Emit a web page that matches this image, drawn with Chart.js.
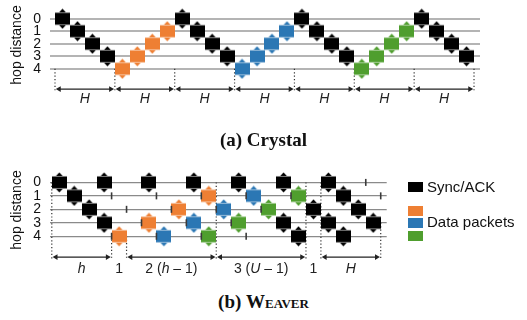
<!DOCTYPE html>
<html>
<head>
<meta charset="utf-8">
<script src="https://cdn.jsdelivr.net/npm/chart.js@4.4.1/dist/chart.umd.min.js"></script>
<style>
  body { margin: 0; width: 527px; height: 320px; background: #fff; position: relative; overflow: hidden; font-family: "Liberation Sans", Arial, sans-serif; color: #111; }
  canvas { position: absolute; left: 0; }
  #crystal { top: -30px; }
  #weaver { top: 130px; }
  .caption { position: absolute; left: 0; width: 527px; text-align: center; font-family: "Liberation Serif", serif; font-weight: bold; font-size: 19px; line-height: 22px; }
  .sc { font-variant: small-caps; }
  .box { position: absolute; left: 408px; width: 15px; }
  .legend-text { position: absolute; left: 427px; font-size: 15px; line-height: 19px; }
</style>
</head>
<body>
<canvas id="crystal" width="527" height="150"></canvas>
<canvas id="weaver" width="527" height="160"></canvas>
<div class="caption" style="top:129px">(a) Crystal</div>
<div class="caption" style="top:291px">(b) <span class="sc">Weaver</span></div>
<div class="box" style="top:182px;height:10px;background:#000"></div>
<div class="legend-text" style="top:177px">Sync/ACK</div>
<div class="box" style="top:206px;height:10px;background:#ee7f33"></div>
<div class="box" style="top:218px;height:10px;background:#2b77b4"></div>
<div class="box" style="top:230.5px;height:10.5px;background:#4f9e2e"></div>
<div class="legend-text" style="top:212px">Data packets</div>
<script>
const SYNC = '#000000', ORANGE = '#ee7f33', BLUE = '#2b77b4', GREEN = '#4f9e2e';
const FONT = '"Liberation Sans", Arial, sans-serif';
const hopTicks = [0, 1, 2, 3, 4];

// (a) Crystal: slot index -> hop distance
const crystalSyncSlots = [0, 1, 2, 3, 8, 9, 10, 11, 16, 17, 18, 19, 24, 25, 26, 27];
const crystalSyncHops = [0, 1, 2, 3, 0, 1, 2, 3, 0, 1, 2, 3, 0, 1, 2, 3];
const crystalOrangeSlots = [4, 5, 6, 7];
const crystalBlueSlots = [12, 13, 14, 15];
const crystalGreenSlots = [20, 21, 22, 23];
const crystalDataHops = [4, 3, 2, 1];
const crystalBounds = [-0.5, 3.5, 7.5, 11.5, 15.5, 19.5, 23.5, 27.5];
const crystalBoundTops = [4, 4, 4, 4, 4, 4, 4, 4];
const crystalSpans = [[-0.5, 3.5], [3.5, 7.5], [7.5, 11.5], [11.5, 15.5], [15.5, 19.5], [19.5, 23.5], [23.5, 27.5]];
const crystalLabelPos = [1.5, 5.5, 9.5, 13.5, 17.5, 21.5, 25.5];
const crystalLabels = crystalLabelPos.map(() => [['H', 1]]);

// (b) Weaver
const weaverSyncSlots = [0, 1, 2, 3, 3, 6, 9, 12, 15, 15, 16, 17, 18, 18, 19, 19, 20, 21];
const weaverSyncHops = [0, 1, 2, 3, 0, 0, 0, 0, 0, 3, 4, 2, 0, 3, 1, 4, 2, 3];
const weaverOrangeSlots = [4, 6, 8, 10];
const weaverBlueSlots = [7, 9, 11, 13];
const weaverGreenSlots = [10, 12, 14, 16];
const weaverDataHops = [4, 3, 2, 1];
const weaverTickSlots = [3.5, 6.5, 4.5, 12.5, 20.5, 21.5];
const weaverTickHops = [1, 1, 2, 4, 0, 1];
const weaverBounds = [-0.5, 3.5, 4.5, 10.5, 16.5, 17.5, 21.5];
const weaverBoundTops = [0, 4, 4, 0, 0, 0, 3];
const weaverSpans = [[-0.5, 3.5], [4.5, 10.5], [10.5, 16.5], [17.5, 21.5]];
const weaverLabelPos = [1.5, 4, 7.5, 13.5, 17, 19.5];
const weaverLabels = [
  [['h', 1]],
  [['1', 0]],
  [['2 (', 0], ['h', 1], [' \u2013 1)', 0]],
  [['3 (', 0], ['U', 1], [' \u2013 1)', 0]],
  [['1', 0]],
  [['H', 1]]
];

// square with a small up/down arrow, used as the point style
function makeGlyph(color) {
  const c = document.createElement('canvas');
  c.width = 15; c.height = 21;
  const g = c.getContext('2d');
  g.fillStyle = color;
  g.fillRect(0, 4.5, 15, 12);
  g.beginPath(); g.moveTo(4.2, 4); g.lineTo(10.8, 4); g.lineTo(7.5, 0.4); g.closePath(); g.fill();
  g.beginPath(); g.moveTo(4.2, 17); g.lineTo(10.8, 17); g.lineTo(7.5, 20.6); g.closePath(); g.fill();
  return c;
}

const spanLabels = {
  id: 'spanLabels',
  afterDatasetsDraw(chart, args, opts) {
    const { ctx, scales: { x, y } } = chart;
    ctx.save();
    ctx.fillStyle = '#222';
    ctx.textBaseline = 'middle';
    ctx.textAlign = 'left';
    const py = y.getPixelForValue(opts.row);
    opts.labels.forEach((parts, i) => {
      const fonts = parts.map(p => (p[1] ? 'italic ' : '') + '14px ' + FONT);
      const widths = parts.map((p, k) => { ctx.font = fonts[k]; return ctx.measureText(p[0]).width; });
      let px = x.getPixelForValue(opts.positions[i]) - widths.reduce((a, b) => a + b, 0) / 2;
      parts.forEach((p, k) => { ctx.font = fonts[k]; ctx.fillText(p[0], px, py); px += widths[k]; });
    });
    ctx.restore();
  }
};

function points(xs, ys) {
  return xs.map((v, i) => ({ x: v, y: ys[i] }));
}

function buildChart(id, c) {
  const datasets = [];
  c.series.forEach(s => datasets.push({
    data: points(s.slots, s.hops), pointStyle: makeGlyph(s.color),
    pointRadius: 8, pointHoverRadius: 8, order: 1, clip: false
  }));
  const ticks = c.tickSlots ? points(c.tickSlots, c.tickHops) : [];
  c.series.filter(s => s.color !== SYNC && c.tickSlots).forEach(s => {
    s.slots.forEach((v, i) => ticks.push({ x: v - 0.5, y: s.hops[i] }));
  });
  if (ticks.length) datasets.push({
    data: ticks, pointStyle: 'line', pointRotation: 90, pointRadius: 3.5,
    pointBorderWidth: 1.6, pointBorderColor: '#3a3a3a', order: 0, clip: false
  });
  const r = 3.3, gap = (r + 0.8) / 15;
  c.spans.forEach(sp => datasets.push({
    data: [{ x: sp[0] + gap, y: c.arrowRow }, { x: sp[1] - gap, y: c.arrowRow }],
    showLine: true, borderColor: '#222', borderWidth: 1.3,
    pointStyle: 'triangle', pointRotation: [-90, 90], pointRadius: r,
    pointBackgroundColor: '#222', pointBorderWidth: 0, order: 2, clip: false
  }));
  c.bounds.forEach((b, i) => datasets.push({
    data: [{ x: b, y: c.boundTops[i] }, { x: b, y: c.arrowRow + 0.1 }],
    showLine: true, borderColor: '#333', borderWidth: 1.2, borderDash: [1.2, 2.2],
    pointRadius: 0, order: 3, clip: false
  }));

  return new Chart(document.getElementById(id), {
    type: 'scatter',
    data: { datasets },
    plugins: [spanLabels],
    options: {
      responsive: false, animation: false, devicePixelRatio: 1,
      layout: { padding: c.padding },
      events: [],
      plugins: {
        legend: { display: false }, tooltip: { enabled: false },
        spanLabels: { row: c.labelRow, positions: c.labelPos, labels: c.labels }
      },
      scales: {
        x: { type: 'linear', display: false, min: c.xMin, max: c.xMax },
        y: {
          reverse: true, min: c.yMin, max: c.yMax,
          afterBuildTicks: axis => { axis.ticks = hopTicks.map(v => ({ value: v })); },
          afterFit: axis => { axis.width = 50; },
          grid: { color: c.gridColor, lineWidth: c.gridWidth, drawTicks: false },
          border: { display: false },
          ticks: { padding: 9, color: '#111', font: { size: 14, family: FONT } },
          title: {
            display: true, text: 'hop distance', color: '#111',
            font: { size: 14, family: FONT }, padding: { top: 9, bottom: 0 }
          }
        }
      }
    }
  });
}

buildChart('crystal', {
  series: [
    { slots: crystalSyncSlots, hops: crystalSyncHops, color: SYNC },
    { slots: crystalOrangeSlots, hops: crystalDataHops, color: ORANGE },
    { slots: crystalBlueSlots, hops: crystalDataHops, color: BLUE },
    { slots: crystalGreenSlots, hops: crystalDataHops, color: GREEN }
  ],
  bounds: crystalBounds, boundTops: crystalBoundTops, spans: crystalSpans,
  arrowRow: 5.62, labelRow: 6.4, labelPos: crystalLabelPos, labels: crystalLabels,
  xMin: -0.834, xMax: 27.9, yMin: -2.5, yMax: 6.7,
  padding: { left: 0, right: 47, top: 6.2, bottom: 7.2 },
  gridColor: '#b4b4b4', gridWidth: 2
});

buildChart('weaver', {
  series: [
    { slots: weaverSyncSlots, hops: weaverSyncHops, color: SYNC },
    { slots: weaverOrangeSlots, hops: weaverDataHops, color: ORANGE },
    { slots: weaverBlueSlots, hops: weaverDataHops, color: BLUE },
    { slots: weaverGreenSlots, hops: weaverDataHops, color: GREEN }
  ],
  tickSlots: weaverTickSlots, tickHops: weaverTickHops,
  bounds: weaverBounds, boundTops: weaverBoundTops, spans: weaverSpans,
  arrowRow: 5.55, labelRow: 6.45, labelPos: weaverLabelPos, labels: weaverLabels,
  xMin: -0.62, xMax: 21.9, yMin: -2.6, yMax: 6.7,
  padding: { left: 0, right: 140.3, top: 8.6, bottom: 13.7 },
  gridColor: '#8a8a8a', gridWidth: 1.2
});
</script>
</body>
</html>
